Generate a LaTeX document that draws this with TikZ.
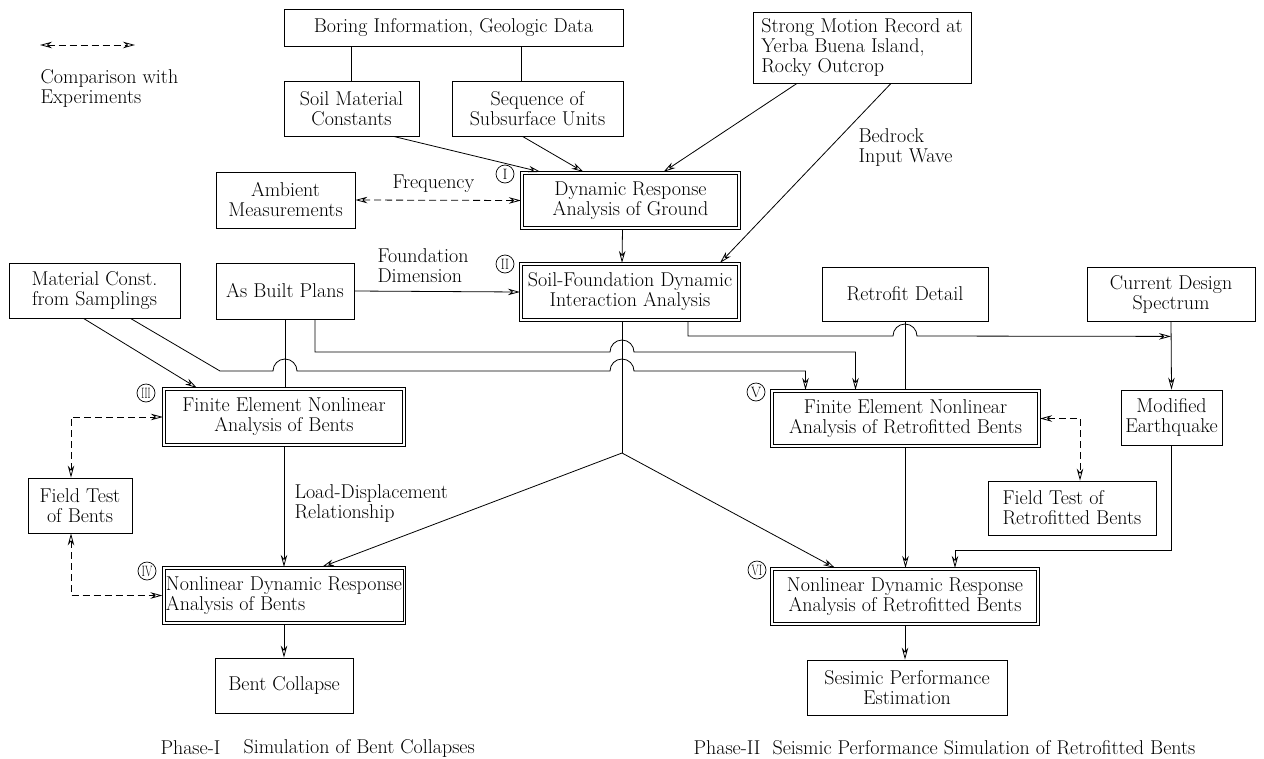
\documentclass[tikz,border=0pt]{standalone}
\usepackage{graphicx}
\usepackage{tikz}
\usetikzlibrary{arrows.meta, positioning}

\tikzset{
	box/.style={draw, line width=0.8pt, align=center, inner sep=1pt},
	dbox/.style={box, outer sep=2.6pt, append after command={\pgfextra{\draw[line width=1pt] (\tikzlastnode.north west) rectangle (\tikzlastnode.south east);}}},
	num/.style={draw, circle, line width=0.7pt, inner sep=0pt, minimum size=18pt, font=\fontsize{15}{15}\selectfont},
	flow/.style={-{Stealth[open, length=12pt, width=6.5pt]}, line width=0.8pt},
	cmp/.style={{Stealth[open, length=12pt, width=6.5pt]}-{Stealth[open, length=12pt, width=6.5pt]}, dash pattern=on 7pt off 4pt, line width=0.8pt},
}

\begin{document}
\begin{tikzpicture}[x=1pt, y=-1pt, font=\fontsize{20}{20}\selectfont]
	\useasboundingbox (0,0) rectangle (1264,758);
	% Boxes:
	\node[box, minimum width=339pt, minimum height=37pt] (boring) at (453.5,27.5) {Boring Information, Geologic Data};
	\node[box, minimum width=135pt, minimum height=55pt] (soilmat) at (351.5,108.5) {Soil Material\\Constants};
	\node[box, minimum width=171pt, minimum height=55pt] (subunits) at (537.5,108.5) {Sequence of\\Subsurface Units};
	\node[box, align=left, minimum width=218pt, minimum height=71pt] (motion) at (862,47.5) {Strong Motion Record at\\Yerba Buena Island,\\Rocky Outcrop};
	\node[dbox, minimum width=214pt, minimum height=52pt] (ground) at (630.5,200.5) {Dynamic Response\\Analysis of Ground};
	\node[box, minimum width=139pt, minimum height=56pt] (ambient) at (285.5,200) {Ambient\\Measurements};
	\node[dbox, minimum width=215pt, minimum height=53pt] (interact) at (630,292) {Soil-Foundation Dynamic\\Interaction Analysis};
	\node[box, minimum width=171pt, minimum height=55pt] (sampling) at (94.5,290.5) {Material Const.\\from Samplings};
	\node[box, minimum width=138pt, minimum height=56pt] (plans) at (285,291) {As Built Plans};
	\node[box, minimum width=166pt, minimum height=54pt] (retrofit) at (905,294) {Retrofit Detail};
	\node[box, minimum width=168pt, minimum height=54pt] (spectrum) at (1171,294) {Current Design\\Spectrum};
	\node[dbox, minimum width=237pt, minimum height=53pt] (fem) at (284,417) {Finite Element Nonlinear\\Analysis of Bents};
	\node[dbox, minimum width=264pt, minimum height=52pt] (femr) at (905.5,418.5) {Finite Element Nonlinear\\Analysis of Retrofitted Bents};
	\node[box, minimum width=101pt, minimum height=55pt] (quake) at (1171.5,417.5) {Modified\\Earthquake};
	\node[box, minimum width=104pt, minimum height=55pt] (testb) at (80,505.5) {Field Test\\of Bents};
	\node[box, align=left, minimum width=168pt, minimum height=54pt] (testr) at (1072,508) {Field Test of\\Retrofitted Bents};
	\node[dbox, align=left, minimum width=237pt, minimum height=52pt] (dyn) at (284,595.5) {Nonlinear Dynamic Response\\Analysis of Bents};
	\node[dbox, minimum width=263pt, minimum height=52pt] (dynr) at (905,596.5) {Nonlinear Dynamic Response\\Analysis of Retrofitted Bents};
	\node[box, minimum width=138pt, minimum height=55pt] (collapse) at (284,685.5) {Bent Collapse};
	\node[box, minimum width=200pt, minimum height=55pt] (perf) at (907,687.5) {Sesimic Performance\\Estimation};
	% Step numbers:
	\node[num] (n1) at (505,174) {I};
	\node[num] (n2) at (505,264) {\scalebox{0.8}[1]{II}};
	\node[num] (n3) at (146,393) {\scalebox{0.6}[1]{III}};
	\node[num] (n4) at (147,571) {\scalebox{0.7}[1]{IV}};
	\node[num] (n5) at (756,392) {V};
	\node[num] (n6) at (757,570) {\scalebox{0.7}[1]{VI}};
	% Labels:
	\coordinate (keyl) at (40,45);
	\coordinate (keyr) at (135,45);
	\node[anchor=west, align=left] (keytext) at (37,88) {Comparison with\\Experiments};
	\node[anchor=west] (freqlbl) at (389,184) {Frequency};
	\node[anchor=west, align=left] (dimlbl) at (374,266) {Foundation\\Dimension};
	\node[anchor=west, align=left] (wavelbl) at (855,148) {Bedrock\\Input Wave};
	\node[anchor=west, align=left] (ldlbl) at (291,504) {Load-Displacement\\Relationship};
	\node[anchor=west] (phase1) at (157,748) {Phase-I};
	\node[anchor=west] (title1) at (240,748) {Simulation of Bent Collapses};
	\node[anchor=west] (phase2) at (690,748) {Phase-II\ \ Seismic Performance Simulation of Retrofitted Bents};
	% Connections:
	\coordinate (split) at (622,453);
	\coordinate (tap) at ([yshift=-15pt]spectrum.south);
	\draw[cmp] (keyl) -- (keyr);
	\draw (soilmat.north) -- (soilmat.north |- boring.south);
	\draw ([xshift=-16pt]subunits.north) -- ([xshift=-16pt]subunits.north |- boring.south);
	\draw[flow] ([xshift=42pt]soilmat.south) -- ([xshift=-90pt]ground.north);
	\draw[flow] ([xshift=-15pt]subunits.south) -- ([xshift=-47pt]ground.north);
	\draw[flow] ([xshift=-65pt]motion.south) -- ([xshift=33pt]ground.north);
	\draw[flow] ([xshift=29pt]motion.south) -- ([xshift=90pt]interact.north);
	\draw[cmp] (ambient.east) -- (ground.west);
	\draw[flow] ([xshift=-8pt]ground.south) -- ([xshift=-8pt]interact.north);
	\draw[flow] (plans.east) -- (interact.west);
	\draw[flow] ([xshift=-11pt]sampling.south) -- ([xshift=-87pt]fem.north);
	\draw[flow] ([xshift=36pt]sampling.south) -- (220,371) -- (273,371) arc[start angle=180, end angle=0, radius=12pt] -- (610,371) arc[start angle=180, end angle=0, radius=12pt] -| ([xshift=-100pt]femr.north);
	\draw[flow] ([xshift=30pt]plans.south) |- (610,352) arc[start angle=180, end angle=0, radius=12pt] -| ([xshift=-50pt]femr.north);
	\draw[flow] ([xshift=58pt]interact.south) |- (893,336) arc[start angle=180, end angle=0, radius=12pt] -- (tap);
	\draw (plans.south) -- (plans.south |- fem.north);
	\draw (retrofit.south) -- (retrofit.south |- femr.north);
	\draw[flow] (spectrum.south) -- (quake.north);
	\draw ([xshift=-8pt]interact.south) -- (split);
	\draw[flow] (split) -- ([xshift=38pt]dyn.north);
	\draw[flow] (split) -- ([xshift=-70pt]dynr.north);
	\draw[flow] (fem.south) -- (fem.south |- dyn.north);
	\draw[flow] (femr.south) -- (femr.south |- dynr.north);
	\draw[flow] (quake.south) |- ([xshift=50pt, yshift=18pt]dynr.north) -- ([xshift=50pt]dynr.north);
	\draw[cmp] ([xshift=-9pt]testb.north) |- (fem.west);
	\draw[cmp] ([xshift=-9pt]testb.south) |- (dyn.west);
	\draw[cmp] (femr.east) -| ([xshift=8pt]testr.north);
	\draw[flow] (dyn.south) -- (dyn.south |- collapse.north);
	\draw[flow] (dynr.south) -- (dynr.south |- perf.north);
\end{tikzpicture}
\end{document}
